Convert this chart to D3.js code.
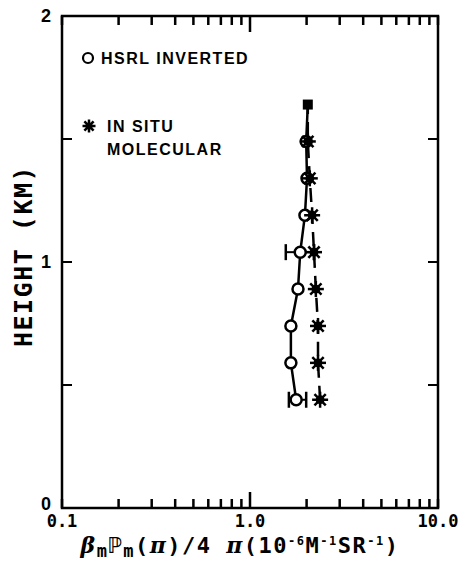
<!DOCTYPE html>
<html>
<head>
<meta charset="utf-8">
<script src="https://cdn.jsdelivr.net/npm/d3@7"></script>
<style>
  body { margin: 0; background: #fff; }
</style>
</head>
<body>
<div id="chart"></div>
<script>
var svgWidth = 461;
var svgHeight = 564;

var margin = { top: 16, right: 23, bottom: 56, left: 62 };
var plotW = svgWidth - margin.left - margin.right;
var plotH = svgHeight - margin.top - margin.bottom;

// heights (km)
var heights = [0.44, 0.59, 0.74, 0.89, 1.04, 1.19, 1.34, 1.49];
// HSRL inverted backscatter
var hsrlValues = [1.76, 1.65, 1.65, 1.80, 1.85, 1.96, 2.01, 1.99];
// in situ molecular
var insituValues = [2.36, 2.30, 2.30, 2.24, 2.19, 2.14, 2.08, 2.03];
// top point (filled square)
var topHeight = 1.64;
var topValue = 2.03;
// error bars on HSRL points
var errHeights = [0.44, 1.04];
var errLow = [1.61, 1.55];
var errHigh = [1.99, 2.19];

var xTickLabels = ["0.1", "1.0", "10.0"];
var yTickLabels = ["0", "1", "2"];

var svg = d3.select("#chart")
  .append("svg")
  .attr("width", svgWidth)
  .attr("height", svgHeight);

var chartGroup = svg.append("g")
  .attr("transform", `translate(${margin.left}, ${margin.top})`);

var xScale = d3.scaleLog().domain([0.1, 10]).range([0, plotW]);
var yScale = d3.scaleLinear().domain([0, 2]).range([plotH, 0]);

// frame
chartGroup.append("rect")
  .attr("width", plotW)
  .attr("height", plotH)
  .attr("fill", "none")
  .attr("stroke", "#000")
  .attr("stroke-width", 2.5);

// x tick labels
chartGroup.selectAll(".xlab")
  .data([0.1, 1, 10])
  .enter()
  .append("text")
  .attr("x", d => xScale(d))
  .attr("y", plotH + 19)
  .attr("text-anchor", "middle")
  .style("font-family", "'DejaVu Sans Mono', monospace")
  .style("font-weight", "bold")
  .style("font-size", "17px")
  .text((d, i) => xTickLabels[i]);

// y ticks left and right
chartGroup.selectAll(".ltick")
  .data([0.5, 1, 1.5])
  .enter()
  .append("line")
  .attr("x1", 0).attr("x2", 10)
  .attr("y1", d => yScale(d)).attr("y2", d => yScale(d))
  .attr("stroke", "#000").attr("stroke-width", 2);

chartGroup.selectAll(".rtick")
  .data([0.5, 1, 1.5])
  .enter()
  .append("line")
  .attr("x1", plotW).attr("x2", plotW - 10)
  .attr("y1", d => yScale(d)).attr("y2", d => yScale(d))
  .attr("stroke", "#000").attr("stroke-width", 2);

chartGroup.selectAll(".ylab")
  .data([0, 1, 2])
  .enter()
  .append("text")
  .attr("x", -11)
  .attr("y", d => yScale(d) + (d === 0 ? 2 : 6))
  .attr("text-anchor", "end")
  .style("font-family", "'Liberation Sans', Arial, sans-serif")
  .style("font-weight", "bold")
  .style("font-size", "18px")
  .text((d, i) => yTickLabels[i]);

// axis titles
chartGroup.append("text")
  .attr("transform", "rotate(-90)")
  .attr("x", -yScale(1) + 6)
  .attr("y", -30)
  .attr("text-anchor", "middle")
  .style("font-family", "'DejaVu Sans Mono', monospace")
  .style("font-weight", "bold")
  .style("font-size", "25px")
  .style("letter-spacing", "1.5px")
  .text("HEIGHT (KM)");

var xTitle = chartGroup.append("text")
  .attr("x", xScale(1) - 10)
  .attr("y", plotH + 45)
  .attr("text-anchor", "middle")
  .style("font-family", "'DejaVu Sans Mono', monospace")
  .style("font-weight", "bold")
  .style("font-size", "22px")
  .style("letter-spacing", "1.5px");
xTitle.append("tspan").style("font-family", "'DejaVu Serif', serif").style("font-style", "italic").text("β");
xTitle.append("tspan").attr("dy", 4).style("font-size", "17px").text("m");
xTitle.append("tspan").attr("dy", -4).text("ℙ");
xTitle.append("tspan").attr("dy", 4).style("font-size", "17px").text("m");
xTitle.append("tspan").attr("dy", -4).text("(");
xTitle.append("tspan").style("font-family", "'DejaVu Serif', serif").style("font-style", "italic").text("π");
xTitle.append("tspan").text(")/4 ");
xTitle.append("tspan").style("font-family", "'DejaVu Serif', serif").style("font-style", "italic").text("π");
xTitle.append("tspan").text("(10");
xTitle.append("tspan").attr("dy", -8).style("font-size", "12px").text("-6");
xTitle.append("tspan").attr("dy", 8).text("M");
xTitle.append("tspan").attr("dy", -8).style("font-size", "12px").text("-1");
xTitle.append("tspan").attr("dy", 8).text("SR");
xTitle.append("tspan").attr("dy", -8).style("font-size", "12px").text("-1");
xTitle.append("tspan").attr("dy", 8).text(")");

// lines
var insitu = heights.map((h, i) => ({ h: h, v: insituValues[i] }));
var hsrl = heights.map((h, i) => ({ h: h, v: hsrlValues[i] }));
var lineGen = d3.line().x(d => xScale(d.v)).y(d => yScale(d.h));

chartGroup.append("path")
  .datum(insitu.concat([{ h: topHeight, v: topValue }]))
  .attr("d", lineGen)
  .attr("fill", "none")
  .attr("stroke", "#000")
  .attr("stroke-width", 2.5)
  .attr("stroke-dasharray", "14,8");

chartGroup.append("path")
  .datum(hsrl.concat([{ h: topHeight, v: topValue }]))
  .attr("d", lineGen)
  .attr("fill", "none")
  .attr("stroke", "#000")
  .attr("stroke-width", 2.5);

// error bars
errHeights.forEach(function(h, i) {
  var g = chartGroup.append("g");
  var y = yScale(h);
  g.append("line")
    .attr("x1", xScale(errLow[i])).attr("x2", xScale(errHigh[i]))
    .attr("y1", y).attr("y2", y)
    .attr("stroke", "#000").attr("stroke-width", 2);
  [errLow[i], errHigh[i]].forEach(v => {
    g.append("line")
      .attr("x1", xScale(v)).attr("x2", xScale(v))
      .attr("y1", y - 8).attr("y2", y + 8)
      .attr("stroke", "#000").attr("stroke-width", 2.5);
  });
});

// star markers
function drawStar(g, r) {
  for (var k = 0; k < 4; k++) {
    var a = k * Math.PI / 4;
    g.append("line")
      .attr("x1", -r * Math.cos(a)).attr("y1", -r * Math.sin(a))
      .attr("x2", r * Math.cos(a)).attr("y2", r * Math.sin(a))
      .attr("stroke", "#000").attr("stroke-width", 2.5);
  }
  g.append("circle").attr("r", r * 0.55).attr("fill", "#000");
}

// hsrl circles
chartGroup.selectAll(".hsrl")
  .data(hsrl)
  .enter()
  .append("circle")
  .attr("cx", d => xScale(d.v))
  .attr("cy", d => yScale(d.h))
  .attr("r", 5.5)
  .attr("fill", "#fff")
  .attr("stroke", "#000")
  .attr("stroke-width", 2.5);

chartGroup.selectAll(".star")
  .data(insitu)
  .enter()
  .append("g")
  .attr("transform", d => `translate(${xScale(d.v)}, ${yScale(d.h)})`)
  .each(function() { drawStar(d3.select(this), 8); });

// top square
chartGroup.append("rect")
  .attr("x", xScale(topValue) - 5)
  .attr("y", yScale(topHeight) - 5)
  .attr("width", 10)
  .attr("height", 10)
  .attr("fill", "#000");

// legend
var legendFont = "'Liberation Sans', Arial, sans-serif";
var legend = chartGroup.append("g");
legend.append("circle")
  .attr("cx", 26).attr("cy", 42)
  .attr("r", 5).attr("fill", "none")
  .attr("stroke", "#000").attr("stroke-width", 2.2);
legend.append("text")
  .attr("x", 39).attr("y", 48)
  .style("font-family", legendFont)
  .style("font-weight", "bold")
  .style("font-size", "16px")
  .style("letter-spacing", "1.5px")
  .text("HSRL INVERTED");
var lstar = legend.append("g").attr("transform", "translate(27, 110)");
drawStar(lstar, 6.5);
legend.append("text")
  .attr("x", 45).attr("y", 116)
  .style("font-family", legendFont)
  .style("font-weight", "bold")
  .style("font-size", "16px")
  .style("letter-spacing", "1.5px")
  .text("IN SITU");
legend.append("text")
  .attr("x", 45).attr("y", 139)
  .style("font-family", legendFont)
  .style("font-weight", "bold")
  .style("font-size", "16px")
  .style("letter-spacing", "1.5px")
  .text("MOLECULAR");

// log ticks on top and bottom, pointing inward (drawn last)
var logTicks = [];
[0.1, 1].forEach(function(dec) {
  d3.range(1, 10).forEach(function(k) { logTicks.push(dec * k); });
});
logTicks.push(10);

var tickGroup = svg.append("g")
  .attr("transform", `translate(${margin.left}, ${margin.top})`);
logTicks.forEach(function(d) {
  var tx = xScale(d);
  var tl = Math.abs(d - 1) < 1e-9 ? 16 : 9;
  tickGroup.append("rect")
    .attr("x", tx - 1.25).attr("y", 0)
    .attr("width", 2.5).attr("height", tl)
    .attr("fill", "#000");
  tickGroup.append("rect")
    .attr("x", tx - 1.25).attr("y", plotH - tl)
    .attr("width", 2.5).attr("height", tl)
    .attr("fill", "#000");
});
</script>
</body>
</html>
